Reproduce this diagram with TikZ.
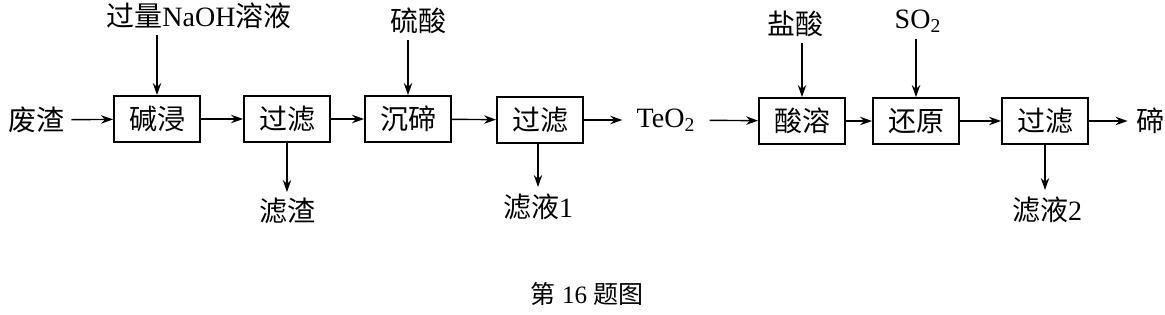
\documentclass[tikz,border=0pt]{standalone}
\usepackage{fontspec}
\setmainfont{Liberation Serif}
\newfontfamily\cjk{Noto Sans CJK SC}
\usetikzlibrary{arrows.meta,positioning}
\newcommand{\zh}[1]{{\cjk #1}}

\begin{document}
\begin{tikzpicture}[
    x=0.5pt, y=-0.5pt,
    box/.style={rectangle, draw, line width=0.9pt, minimum width=43pt,
                minimum height=23pt, inner sep=0pt, font=\fontsize{14}{16}\selectfont},
    lbl/.style={inner sep=3pt, font=\fontsize{14}{16}\selectfont},
    arrow/.style={-{Stealth[length=6pt,width=4.2pt]}, line width=0.7pt}
]
\useasboundingbox (0,0) rectangle (1165,315);

% main line
\node[lbl] (fz) at (37,120) {\zh{废渣}};
\node[box] (jj) at (157,119) {\zh{碱浸}};
\node[box] (gl1) at (287,119) {\zh{过滤}};
\node[box] (cd) at (408,119) {\zh{沉碲}};
\node[box] (gl2) at (540,120) {\zh{过滤}};
\node[lbl, inner xsep=7pt] (teo2) at (666,120) {TeO\textsubscript{2}};
\node[box] (sr) at (802,121) {\zh{酸溶}};
\node[box] (hy) at (916,121) {\zh{还原}};
\node[box] (gl3) at (1045,121) {\zh{过滤}};
\node[lbl, inner xsep=4pt] (te) at (1150,121) {\zh{碲}};

% feeds and outputs
\node[lbl] (naoh) at (199,16) {\zh{过量}NaOH\zh{溶液}};
\node[lbl] (ls) at (418,21) {\zh{硫酸}};
\node[lbl] (ys) at (795,24) {\zh{盐酸}};
\node[lbl] (so2) at (918,21) {SO\textsubscript{2}};
\node[lbl, anchor=north] (zz1) at (287,192) {\zh{滤渣}};
\node[lbl, anchor=north] (zy1) at (538,187) {\zh{滤液}1};
\node[lbl, anchor=north] (zy2) at (1047,190) {\zh{滤液}2};

\node[font=\fontsize{12.5}{14}\selectfont] (cap) at (587,294) {\zh{第} 16 \zh{题图}};

\draw[arrow] (fz) -- (jj);
\draw[arrow] (jj) -- (gl1);
\draw[arrow] (gl1) -- (cd);
\draw[arrow] (cd) -- (gl2);
\draw[arrow] (gl2) -- (teo2);
\draw[arrow] (teo2) -- (sr);
\draw[arrow] (sr) -- (hy);
\draw[arrow] (hy) -- (gl3);
\draw[arrow] (gl3) -- (te);

\draw[arrow] (naoh.south -| jj.north) -- (jj.north);
\draw[arrow] (ls.south -| cd.north) -- (cd.north);
\draw[arrow] (ys.south -| sr.north) -- (sr.north);
\draw[arrow] (so2.south -| hy.north) -- (hy.north);
\draw[arrow] (gl1.south) -- (gl1.south |- zz1.north);
\draw[arrow] (gl2.south -| zy1.north) -- (zy1.north);
\draw[arrow] (gl3.south) -- (gl3.south |- zy2.north);
\end{tikzpicture}
\end{document}
